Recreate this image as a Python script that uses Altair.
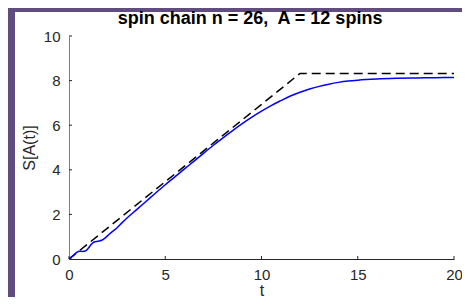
import altair as alt
import pandas as pd

# blue curve: S[A(t)]
t_blue = [0, 0.2, 0.4, 0.55, 0.7, 0.85, 1.0, 1.15, 1.3, 1.5, 1.7, 1.9, 2.1, 2.3, 2.5,
          2.75, 3.0, 3.5, 4.0, 4.5, 5.0, 5.5, 6.0, 6.5, 7.0, 7.5, 8.0, 8.5, 9.0, 9.5,
          10.0, 10.5, 11.0, 11.5, 12.0, 12.5, 13.0, 13.5, 14.0, 14.5, 15.0, 16.0,
          17.0, 18.0, 19.0, 20.0]
s_blue = [0, 0.14, 0.30, 0.35, 0.34, 0.36, 0.48, 0.65, 0.76, 0.80, 0.84, 0.96, 1.12, 1.26, 1.40,
          1.62, 1.83, 2.20, 2.58, 2.96, 3.33, 3.68, 4.04, 4.39, 4.75, 5.10, 5.43, 5.76, 6.07, 6.36,
          6.63, 6.88, 7.10, 7.31, 7.48, 7.62, 7.74, 7.84, 7.92, 7.98, 8.02, 8.07,
          8.10, 8.12, 8.13, 8.14]

# dashed Page curve
t_page = [0, 12, 20]
s_page = [0, 8.32, 8.32]

x_ticks = [0, 5, 10, 15, 20]
y_ticks = [0, 2, 4, 6, 8, 10]

title_text = "spin chain n = 26,\u00a0 A = 12 spins"

W, H = 385, 223
FONT = "Liberation Sans"
AX = "#262626"

blue_df = pd.DataFrame({"t": t_blue, "S": s_blue})
page_df = pd.DataFrame({"t": t_page, "S": s_page})
xt_df = pd.DataFrame({"t": x_ticks})
yt_df = pd.DataFrame({"S": y_ticks})

xscale = alt.Scale(domain=[0, 20], nice=False, zero=False)
yscale = alt.Scale(domain=[0, 10], nice=False, zero=False)

x_axis = alt.Axis(values=x_ticks, title="t", grid=False, ticks=False,
                  domainColor=AX, labelColor=AX, labelFont=FONT, labelFontSize=15,
                  labelPadding=8, labelFlush=False, format="d",
                  titleFont=FONT, titleFontSize=16, titleFontWeight="normal",
                  titleColor=AX, titleY=36, titleBaseline="alphabetic")
y_axis = alt.Axis(values=y_ticks, title="S[A(t)]", grid=False, ticks=False,
                  domainColor="#808080", labelColor=AX, labelFont=FONT, labelFontSize=15,
                  labelPadding=9, labelFlush=False, format="d",
                  titleFont=FONT, titleFontSize=16, titleFontWeight="normal",
                  titleColor=AX, titleX=-35, titleY=H / 2, titleAngle=270,
                  titleBaseline="alphabetic", titleAlign="center")

blue = alt.Chart(blue_df).mark_line(color="#0000ff", strokeWidth=1.5,
                                    interpolate="monotone").encode(
    x=alt.X("t:Q", scale=xscale, axis=x_axis),
    y=alt.Y("S:Q", scale=yscale, axis=y_axis),
)

page = alt.Chart(page_df).mark_line(color="black", strokeWidth=1.5,
                                    strokeDash=[9, 5]).encode(
    x=alt.X("t:Q", scale=xscale),
    y=alt.Y("S:Q", scale=yscale),
)

xt = alt.Chart(xt_df).mark_rule(color=AX, strokeWidth=1).encode(
    x=alt.X("t:Q", scale=xscale),
    y=alt.value(H), y2=alt.value(H - 3),
)
yt = alt.Chart(yt_df).mark_rule(color=AX, strokeWidth=1).encode(
    y=alt.Y("S:Q", scale=yscale),
    x=alt.value(0), x2=alt.value(3),
)

frame = alt.Chart(alt.Data(values=[{"a": 1}])).mark_rect(
    fill=None, stroke="#604c7f", strokeWidth=8, cornerRadius=4, clip=False
).encode(
    x=alt.value(-58), x2=alt.value(600),
    y=alt.value(-28), y2=alt.value(600),
)

title = alt.Chart(alt.Data(values=[{"title": title_text}])).mark_text(
    font=FONT, fontSize=18, fontWeight="bold", color="black",
    align="center", baseline="alphabetic"
).encode(
    text="title:N",
    x=alt.value(181), y=alt.value(-12),
)

chart = alt.layer(frame, page, blue, xt, yt, title).properties(
    width=W, height=H,
    padding={"left": 61, "top": 28, "right": 8, "bottom": 38},
    autosize=alt.AutoSizeParams(type="none"),
    background="white",
).configure_view(stroke=None)

chart.save("out.html", embed_options={"renderer": "svg", "actions": False})
